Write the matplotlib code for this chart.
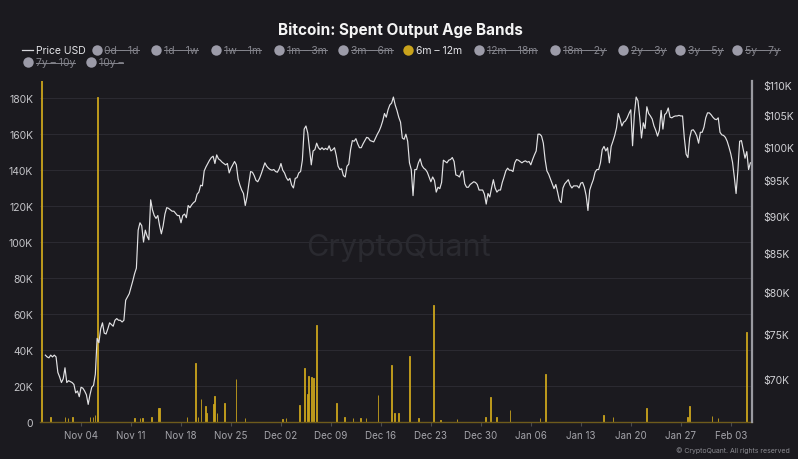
import matplotlib
matplotlib.use("Agg")
import matplotlib.pyplot as plt
import matplotlib.dates as mdates
import matplotlib.ticker as mticker
import pandas as pd

plt.rcParams["font.family"] = ["Inter", "DejaVu Sans"]

# BTC price (thousand USD), 6-hourly from 2024-10-30 00:00
price_start = "2024-10-30 00:00"
price_k = [
    72.6, 72.4, 72.3, 72.6, 72.4, 72.6, 72.4, 70.7, 70.2, 69.6,
    70.0, 71.2, 69.6, 69.8, 69.7, 69.6, 69.4, 68.5, 68.7, 68.1,
    69.1, 69.0, 68.7, 68.3, 67.3, 68.3, 69.1, 69.3, 70.5, 74.5,
    74.0, 75.6, 76.3, 75.1, 75.0, 75.6, 76.3, 76.1, 75.9, 76.6,
    76.8, 76.6, 76.6, 76.4, 76.6, 79.0, 79.4, 79.8, 80.6, 81.4,
    82.3, 83.0, 88.0, 89.0, 88.6, 86.4, 88.0, 87.2, 86.7, 92.2,
    90.8, 90.0, 89.6, 90.0, 88.6, 87.5, 88.6, 90.2, 91.1, 91.0,
    90.8, 90.6, 90.6, 90.3, 90.0, 90.0, 89.0, 90.0, 90.2, 89.7,
    91.4, 91.1, 91.5, 91.8, 92.0, 93.0, 93.3, 94.3, 94.2, 96.4,
    97.0, 97.5, 98.0, 98.4, 98.6, 97.5, 98.8, 98.2, 98.0, 97.7,
    97.5, 97.3, 97.5, 96.1, 96.8, 97.3, 97.8, 97.3, 95.2, 94.3,
    93.6, 93.1, 91.4, 92.6, 94.5, 96.3, 96.2, 95.7, 95.0, 94.8,
    95.3, 96.0, 96.8, 97.6, 97.1, 96.8, 96.6, 96.5, 96.6, 96.3,
    96.2, 96.7, 97.5, 96.5, 96.1, 95.4, 95.0, 95.3, 94.3, 93.9,
    95.3, 95.4, 96.1, 96.3, 98.0, 102.8, 103.3, 102.2, 99.7, 97.3,
    99.4, 99.6, 100.6, 99.9, 99.6, 99.9, 99.6, 99.8, 99.6, 100.2,
    99.4, 99.6, 99.9, 98.7, 97.1, 96.6, 96.7, 95.7, 95.5, 97.1,
    97.4, 99.6, 101.0, 100.9, 101.3, 100.5, 99.9, 99.9, 100.5, 101.0,
    101.5, 101.4, 101.0, 100.9, 100.8, 101.4, 102.0, 102.5, 103.2, 104.1,
    105.3, 104.7, 105.9, 106.7, 107.0, 108.0, 106.7, 105.8, 104.7, 103.9,
    101.4, 101.2, 102.0, 100.9, 97.6, 96.6, 92.8, 96.6, 96.6, 97.6,
    98.2, 97.2, 96.8, 96.6, 96.2, 95.5, 94.8, 95.5, 95.0, 93.3,
    94.0, 93.8, 94.7, 98.0, 97.8, 97.6, 98.0, 98.1, 98.4, 97.8,
    95.8, 95.7, 95.5, 96.2, 96.4, 94.5, 94.0, 94.0, 94.4, 94.6,
    94.8, 94.7, 94.4, 93.6, 93.6, 93.6, 93.0, 91.6, 93.1, 92.6,
    93.9, 95.1, 93.9, 93.3, 93.6, 93.6, 94.7, 95.5, 96.4, 96.8,
    96.5, 96.5, 96.3, 97.6, 98.1, 98.0, 97.8, 97.6, 97.8, 97.9,
    97.7, 97.8, 97.3, 98.1, 98.8, 99.4, 102.0, 102.0, 101.7, 100.6,
    98.1, 96.4, 95.9, 95.2, 94.5, 93.8, 94.4, 93.3, 92.1, 91.8,
    93.9, 94.5, 94.8, 95.1, 94.3, 93.9, 94.2, 94.2, 94.2, 93.9,
    94.6, 94.7, 94.0, 92.8, 90.7, 93.6, 94.4, 95.1, 96.2, 96.6,
    96.6, 97.6, 99.6, 100.1, 99.4, 99.9, 97.6, 100.1, 100.9, 101.8,
    103.0, 105.3, 104.4, 103.3, 103.9, 104.1, 104.6, 105.3, 105.9, 100.2,
    105.1, 108.0, 107.4, 104.7, 101.4, 103.8, 102.9, 106.4, 105.3, 104.9,
    104.4, 103.3, 102.6, 101.7, 102.6, 105.8, 102.8, 105.1, 105.4, 106.2,
    104.7, 104.6, 104.8, 104.9, 104.9, 105.0, 104.9, 104.9, 101.4, 98.9,
    98.4, 101.4, 102.6, 102.7, 102.3, 101.7, 100.6, 102.3, 102.3, 103.1,
    104.6, 105.4, 105.4, 105.1, 104.7, 104.4, 104.3, 104.6, 102.3, 101.9,
    101.8, 101.5, 100.9, 100.0, 99.0, 97.7, 95.5, 93.1, 96.4, 100.9,
    101.0, 99.6, 98.3, 99.3, 96.6, 97.6,
]

# spent output 6m-12m band (thousand BTC), hourly spikes
bar_times = [
    "2024-10-29 10:00", "2024-10-30 16:00", "2024-11-01 18:00", "2024-11-02 04:00",
    "2024-11-02 18:00", "2024-11-05 06:00", "2024-11-05 16:00", "2024-11-05 23:00",
    "2024-11-06 07:00", "2024-11-11 13:00", "2024-11-12 06:00", "2024-11-12 16:00",
    "2024-11-13 22:00", "2024-11-14 20:00", "2024-11-15 01:00", "2024-11-18 20:00",
    "2024-11-20 01:00", "2024-11-20 09:00", "2024-11-20 19:00", "2024-11-21 09:00",
    "2024-11-21 15:00", "2024-11-22 13:00", "2024-11-22 17:00", "2024-11-23 01:00",
    "2024-11-24 01:00", "2024-11-25 17:00", "2024-11-26 23:00", "2024-12-02 04:00",
    "2024-12-02 17:00", "2024-12-04 14:00", "2024-12-05 08:00", "2024-12-05 17:00",
    "2024-12-05 22:00", "2024-12-06 06:00", "2024-12-06 12:00", "2024-12-07 00:00",
    "2024-12-09 20:00", "2024-12-10 23:00", "2024-12-12 02:00", "2024-12-13 02:00",
    "2024-12-13 22:00", "2024-12-15 14:00", "2024-12-17 11:00", "2024-12-17 23:00",
    "2024-12-18 10:00", "2024-12-20 00:00", "2024-12-21 05:00", "2024-12-23 08:00",
    "2024-12-24 07:00", "2024-12-26 16:00", "2024-12-30 16:00", "2024-12-31 07:00",
    "2025-01-01 06:00", "2025-01-03 02:00", "2025-01-07 07:00", "2025-01-08 02:00",
    "2025-01-16 03:00", "2025-01-17 12:00", "2025-01-22 05:00", "2025-01-28 00:00",
    "2025-01-28 05:00", "2025-01-31 09:00", "2025-02-01 05:00", "2025-02-05 05:00",
]
bar_vals = [
    250, 3, 2.5, 2,
    2.5, 2.5, 3, 4,
    180.5, 2, 2, 2,
    3, 8, 8, 3,
    33, 3, 13, 9,
    5, 10, 14.5, 5,
    10.5, 24, 2, 1.5,
    2, 9.5, 30, 15.5,
    25.5, 25, 24.5, 54,
    10.5, 3, 2, 2,
    2, 15, 31.5, 5,
    5, 36.5, 2, 65,
    1, 1.5, 3, 14,
    3, 6.5, 2, 26.5,
    4, 2.5, 7.5, 2.5,
    9, 3.5, 2, 50,
]

band_labels = ["0d – 1d", "1d – 1w", "1w – 1m", "1m – 3m", "3m – 6m", "6m – 12m",
               "12m – 18m", "18m – 2y", "2y – 3y", "3y – 5y", "5y – 7y",
               "7y – 10y", "10y –"]
active_band = "6m – 12m"

left_ticks = [0, 20, 40, 60, 80, 100, 120, 140, 160, 180]
right_ticks = [70, 75, 80, 85, 90, 95, 100, 105, 110]

bg = "#1b1a1f"
gold = "#c9a31c"
grid_c = "#2b2a31"

fig = plt.figure(figsize=(7.98, 4.60), dpi=100, facecolor=bg)
ax = fig.add_axes([40 / 798, 1 - 423 / 460, 712 / 798, 341 / 460])
ax.set_facecolor(bg)

ax.bar(pd.to_datetime(bar_times), bar_vals, width=0.12, color=gold,
       edgecolor=gold, linewidth=0.6, zorder=2)
ax.set_ylim(0, 189.4)
ax.set_yticks(left_ticks)
ax.set_yticklabels(["0" if v == 0 else f"{v}K" for v in left_ticks])
ax.grid(axis="y", color=grid_c, lw=0.8)
ax.set_axisbelow(True)
ax.set_xlim(pd.Timestamp("2024-10-29 06:00"), pd.Timestamp("2025-02-05 23:30"))
ax.xaxis.set_major_locator(mdates.WeekdayLocator(byweekday=mdates.MO))
ax.xaxis.set_major_formatter(mdates.DateFormatter("%b %d"))
ax.tick_params(axis="y", length=0, labelsize=7.5, labelcolor="#c4c4c8", pad=5)
ax.tick_params(axis="x", length=3, color="#4a4a50", labelsize=7, labelcolor="#a4a4aa", pad=3)
for s in ["top", "left", "right"]:
    ax.spines[s].set_visible(False)
ax.spines["bottom"].set_color("#6e5b1c")
ax.spines["bottom"].set_linewidth(1.0)

ax.text(0.503, 0.513, "CryptoQuant", transform=ax.transAxes, ha="center", va="center",
        fontsize=22, color="#2a2a30", zorder=1)

ax2 = ax.twinx()
price_t = pd.date_range(price_start, periods=len(price_k), freq="6h")
ax2.plot(price_t, price_k, color="#e2e2e4", lw=0.85, zorder=3)
ax2.set_yscale("log")
ax2.set_ylim(65.5, 110.7)
ax2.yaxis.set_major_locator(mticker.FixedLocator(right_ticks))
ax2.yaxis.set_minor_locator(mticker.NullLocator())
ax2.yaxis.set_major_formatter(mticker.FuncFormatter(lambda v, p: f"${v:.0f}K"))
ax2.tick_params(axis="y", length=0, labelsize=7.5, labelcolor="#d0d0d4", pad=8)
for s in ["top", "left", "bottom"]:
    ax2.spines[s].set_visible(False)
ax2.spines["right"].set_color("#9a9aa0")
ax2.spines["right"].set_linewidth(1.6)

fig.text(400 / 798, 1 - 30 / 460, "Bitcoin: Spent Output Age Bands", ha="center", va="center",
         fontsize=11, fontweight="bold", color="#f4f4f4")
fig.text(790 / 798, 1 - 451 / 460, "© CryptoQuant. All rights reserved", ha="right", va="center",
         fontsize=5, color="#8a8a90")

# legend drawn in pixel coordinates
lg = fig.add_axes([0, 0, 1, 1])
lg.set_xlim(0, 798)
lg.set_ylim(460, 0)
lg.axis("off")
lg.patch.set_alpha(0)

lg.plot([22, 33], [50.7, 50.7], color="#d8d8dc", lw=0.9)
lg.text(36, 50.7, "Price USD", ha="left", va="center", fontsize=7.5, color="#e4e4e8")

slots = [(96.5, 50.7), (156, 50.7), (216, 50.7), (279, 50.7), (343, 50.7), (408, 50.7),
         (479, 50.7), (555, 50.7), (623, 50.7), (680, 50.7), (737, 50.7),
         (27.7, 63.3), (90.7, 63.3)]
struck = []
for lab, (cx, cy) in zip(band_labels, slots):
    on = lab == active_band
    lg.plot(cx, cy, "o", ms=7.5, color=gold if on else "#9c9ba8", mec="none")
    t = lg.text(cx + 8, cy, lab, ha="left", va="center", fontsize=7.5,
                color="#e4e4e8" if on else "#85858d")
    if not on:
        struck.append((t, cy))

fig.canvas.draw()
inv = lg.transData.inverted()
for t, cy in struck:
    bb = t.get_window_extent()
    x0, _ = inv.transform((bb.x0, bb.y0))
    x1, _ = inv.transform((bb.x1, bb.y0))
    lg.plot([x0, x1], [cy + 0.5, cy + 0.5], color="#85858d", lw=0.7)

fig.savefig("out.png", dpi=100, facecolor=bg)
